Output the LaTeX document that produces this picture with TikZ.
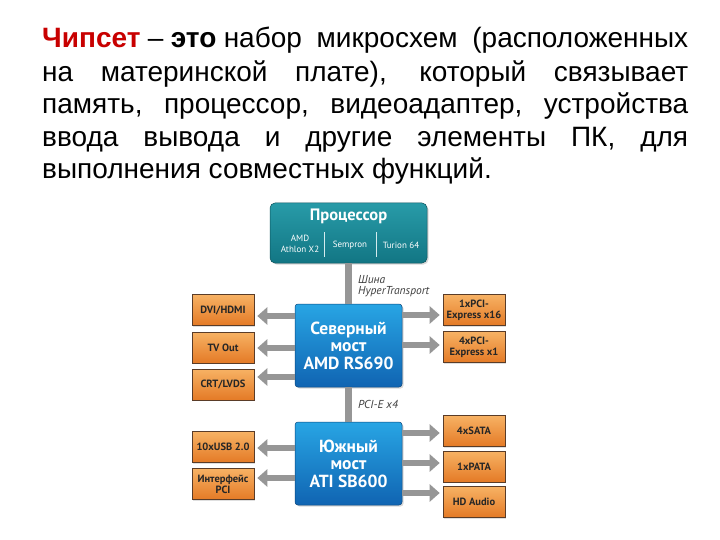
\documentclass[tikz,border=0pt]{standalone}
\usepackage{fontspec}
\setmainfont{Liberation Sans}
\newfontfamily\dfont{PT Sans}
\usetikzlibrary{arrows.meta,shadows}
\definecolor{chred}{RGB}{200,0,0}
\definecolor{orL}{RGB}{247,178,100}
\definecolor{orD}{RGB}{228,122,38}
\definecolor{orB}{RGB}{90,60,40}
\definecolor{tealT}{RGB}{40,155,168}
\definecolor{tealB}{RGB}{18,118,132}
\definecolor{blueT}{RGB}{40,165,228}
\definecolor{blueB}{RGB}{16,100,178}
\definecolor{busgray}{RGB}{150,150,150}
\begin{document}
\begin{tikzpicture}[x=1pt,y=-1pt,
  tline/.style={anchor=base west,inner sep=0pt,font=\fontsize{28}{32}\selectfont},
  obox/.style={draw=orB,line width=0.6pt,top color=orL,bottom color=orD,
    minimum width=62pt,minimum height=31pt,inner sep=1pt,align=center,
    font=\dfont\bfseries\fontsize{10.5}{11}\selectfont,text=black!85,
    drop shadow={shadow xshift=1pt,shadow yshift=-1pt,opacity=0.25}},
  bridge/.style={draw=blueB!70!black,line width=0.5pt,top color=blueT,bottom color=blueB,
    rounded corners=3pt,minimum width=107pt,minimum height=83pt,align=center,
    text=white,font=\dfont\bfseries\fontsize{17.5}{17.5}\selectfont,
    drop shadow={shadow xshift=1.5pt,shadow yshift=-1.5pt,opacity=0.3}},
  garrow/.style={line width=6pt,draw=busgray,-{Triangle[width=17pt,length=10pt]}},
  bus/.style={line width=7pt,draw=busgray},
  lbl/.style={anchor=west,inner sep=0pt,font=\dfont\itshape\fontsize{11.5}{12}\selectfont,text=black!75},
  sub/.style={inner sep=0pt,align=center,text=white,font=\dfont\fontsize{9}{11}\selectfont}]
\useasboundingbox[fill=white] (0,0) rectangle (720,540);

% text block
\node[tline] (t1) at (42,48) {\makebox[646pt][s]{{\color{chred}\bfseries Чипсет} – {\bfseries это} набор\ \ микросхем\ \ (расположенных}};
\node[tline] (t2) at (42,81.5) {\makebox[646pt][s]{на материнской плате), который связывает}};
\node[tline] (t3) at (42,114) {\makebox[646pt][s]{память, процессор, видеоадаптер, устройства}};
\node[tline] (t4) at (42,146.5) {\makebox[646pt][s]{ввода вывода и другие элементы ПК, для}};
\node[tline] (t5) at (42,179) {выполнения совместных функций.};

% boxes
\node[draw=tealB!70!black,line width=0.5pt,top color=tealT,bottom color=tealB,rounded corners=5pt,
  minimum width=157pt,minimum height=60pt,
  drop shadow={shadow xshift=1.5pt,shadow yshift=-1.5pt,opacity=0.3}] (cpu) at (348.5,233) {};
\node[bridge] (nb) at (348.5,345.5) {Северный\\мост\\AMD RS690};
\node[bridge] (sb) at (348.5,463.5) {Южный\\мост\\ATI SB600};

% buses
\draw[bus] (cpu.south) -- (nb.north);
\draw[bus] (nb.south) -- (sb.north);

\node[text=white,inner sep=0pt,font=\dfont\bfseries\fontsize{16.5}{17}\selectfont] (cput) at (348.5,216) {Процессор};
\node[sub] (amd) at (300,244) {AMD\\Athlon X2};
\node[sub] (sem) at (350,245) {Sempron};
\node[sub] (tur) at (401,245) {Turion 64};
\draw[white!80!tealT,line width=0.8pt] (324,232) -- (324,257);
\draw[white!80!tealT,line width=0.8pt] (376,232) -- (376,257);

\node[lbl] (ht1) at (358,280) {Шина};
\node[lbl] (ht2) at (358,292) {HyperTransport};
\node[lbl] (pcie) at (358,404) {PCI-E x4};

% left boxes
\node[obox] (dvi) at (223,310) {DVI/HDMI};
\node[obox] (tv) at (223,347.5) {TV Out};
\node[obox] (crt) at (223,384.5) {CRT/LVDS};
\node[obox] (usb) at (223,447) {10xUSB 2.0};
\node[obox] (pci) at (223,484) {Интерфейс\\PCI};
% right boxes
\node[obox] (x16) at (474,310) {1xPCI-\\Express x16};
\node[obox] (x1) at (474,347) {4xPCI-\\Express x1};
\node[obox] (sata) at (474,431) {4xSATA};
\node[obox] (pata) at (474,466.5) {1xPATA};
\node[obox] (hda) at (474,502) {HD Audio};

% arrows
\coordinate (a1) at (0,316);
\coordinate (a2) at (0,348);
\coordinate (a3) at (0,377);
\coordinate (a4) at (0,448);
\coordinate (a5) at (0,478);
\coordinate (b1) at (0,315);
\coordinate (b2) at (0,345);
\coordinate (b3) at (0,433);
\coordinate (b4) at (0,463);
\coordinate (b5) at (0,493);
\begin{scope}[shorten >=3pt]
\draw[garrow] (nb.west |- a1) -- (dvi.east |- a1);
\draw[garrow] (nb.west |- a2) -- (tv.east |- a2);
\draw[garrow] (nb.west |- a3) -- (crt.east |- a3);
\draw[garrow] (sb.west |- a4) -- (usb.east |- a4);
\draw[garrow] (sb.west |- a5) -- (pci.east |- a5);
\draw[garrow] (nb.east |- b1) -- (x16.west |- b1);
\draw[garrow] (nb.east |- b2) -- (x1.west |- b2);
\draw[garrow] (sb.east |- b3) -- (sata.west |- b3);
\draw[garrow] (sb.east |- b4) -- (pata.west |- b4);
\draw[garrow] (sb.east |- b5) -- (hda.west |- b5);
\end{scope}
\end{tikzpicture}
\end{document}
